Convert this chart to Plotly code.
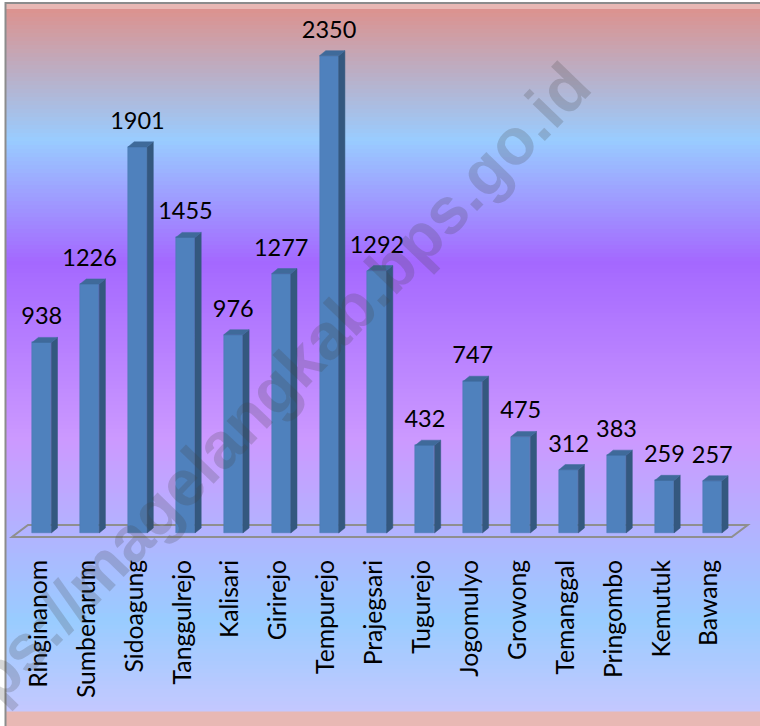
import plotly.graph_objects as go

categories = ["Ringinanom", "Sumberarum", "Sidoagung", "Tanggulrejo", "Kalisari", "Girirejo", "Tempurejo",
              "Prajegsari", "Tugurejo", "Jogomulyo", "Growong", "Temanggal", "Pringombo", "Kemutuk", "Bawang"]
values = [938, 1226, 1901, 1455, 976, 1277, 2350, 1292, 432, 747, 475, 312, 383, 259, 257]

W, H = 760, 726
AXIS_PX = 540
X0, PITCH = 41.7, 47.9
BASE_PX, SCALE = 533, 0.2031
HW = 0.2
DX, DY = 0.13, 25

x_range = [(0 - X0) / PITCH, (W - X0) / PITCH]
y_range = [(BASE_PX - AXIS_PX) / SCALE, BASE_PX / SCALE]
xs = list(range(len(values)))

def py(p):
    return (AXIS_PX - p) / AXIS_PX

def px(p):
    return p / W

stops = [(9, (220, 146, 142)), (140, (153, 204, 255)), (262, (164, 104, 255)),
         (440, (204, 153, 255)), (620, (153, 204, 255)), (711, (196, 200, 255))]

def colour(p):
    for (a, ca), (b, cb) in zip(stops, stops[1:]):
        if a <= p <= b:
            t = (p - a) / (b - a)
            return "rgb(%d,%d,%d)" % tuple(round(u + (v - u) * t) for u, v in zip(ca, cb))
    return "rgb(196,200,255)"

shapes = [dict(type="rect", xref="paper", yref="paper", layer="below", x0=0, x1=1, y0=py(0), y1=py(H),
               fillcolor="#ffffff", line_width=0),
          dict(type="rect", xref="paper", yref="paper", layer="below", x0=px(5), x1=1, y0=py(3), y1=py(H),
               fillcolor="#e8b8b4", line_width=0)]
p = 9
while p < 711:
    shapes.append(dict(type="rect", xref="paper", yref="paper", layer="below", x0=px(6), x1=1,
                       y0=py(p), y1=py(min(p + 4, 711) + 0.5), fillcolor=colour(p + 2), line_width=0))
    p += 4
# frame
shapes.append(dict(type="path", xref="paper", yref="paper", layer="below",
                   path=f"M {px(5.5)} {py(H)} L {px(5.5)} {py(3)} L 1 {py(3)}",
                   line=dict(color="#8c8c8c", width=2)))
# floor
floor = [(12, 537), (731.7, 537), (747.7, 525), (28, 525)]
shapes.append(dict(type="path", xref="paper", yref="paper", layer="below",
                   path="M " + " L ".join(f"{px(a)} {py(b)}" for a, b in floor) + " Z",
                   line=dict(color="#8f8f8f", width=2)))

fig = go.Figure()
fig.add_trace(go.Bar(x=xs, y=values, width=2 * HW, marker=dict(color="#4f81bd", line=dict(color="#4a7ab3", width=0.5)),
                     hoverinfo="skip", showlegend=False))

side_x, side_y, top_x, top_y = [], [], [], []
for x, v in zip(xs, values):
    side_x += [x + HW, x + HW + DX, x + HW + DX, x + HW, x + HW, None]
    side_y += [0, DY, v + DY, v, 0, None]
    top_x += [x - HW, x + HW, x + HW + DX, x - HW + DX, x - HW, None]
    top_y += [v, v, v + DY, v + DY, v, None]

fig.add_trace(go.Scatter(x=side_x, y=side_y, mode="lines", fill="toself", fillcolor="#34587f",
                         line=dict(color="#34587f", width=0.5), hoverinfo="skip", showlegend=False))
fig.add_trace(go.Scatter(x=top_x, y=top_y, mode="lines", fill="toself", fillcolor="#3f6a9a",
                         line=dict(color="#3f6a9a", width=0.5), hoverinfo="skip", showlegend=False))
fig.add_trace(go.Scatter(x=xs, y=[v + DY + 35 for v in values], mode="text", text=[str(v) for v in values],
                         textposition="top center", textfont=dict(family="Lato", size=23.5, color="#000000"),
                         cliponaxis=False, hoverinfo="skip", showlegend=False))

fig.add_annotation(text="https://magelangkab.bps.go.id", xref="paper", yref="paper", x=px(252), y=py(411),
                   xanchor="center", yanchor="middle", textangle=-46, showarrow=False,
                   font=dict(family="Liberation Sans", size=65, color="rgba(70,70,70,0.22)", weight="bold"))

fig.update_layout(
    width=W, height=H, margin=dict(l=0, r=0, t=0, b=H - AXIS_PX, pad=0),
    paper_bgcolor="#ffffff", plot_bgcolor="rgba(0,0,0,0)", shapes=shapes, showlegend=False, bargap=0,
    xaxis=dict(range=x_range, tickmode="array", tickvals=[x - 0.06 for x in xs], ticktext=categories, tickangle=-90,
               showgrid=False, zeroline=False, showline=False, ticks="", ticklabelstandoff=14,
               tickfont=dict(family="Lato", size=24.7, color="#000000")),
    yaxis=dict(range=y_range, visible=False, showgrid=False, zeroline=False),
)
fig.write_html("out.html", config=dict(displayModeBar=False),
               post_script="document.body.style.margin='0';document.body.style.overflow='hidden';")
